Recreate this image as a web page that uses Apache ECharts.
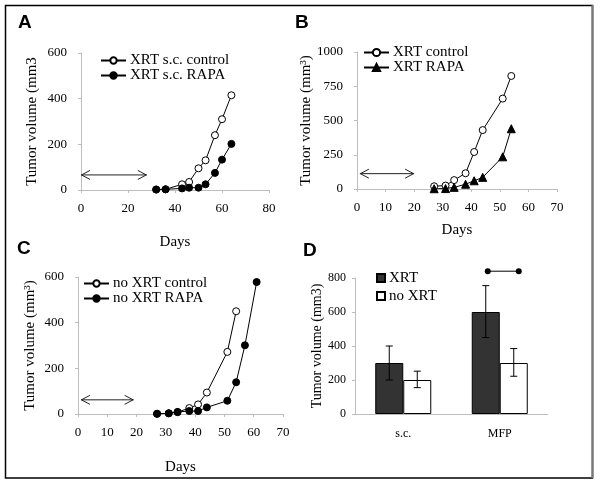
<!DOCTYPE html>
<html><head><meta charset="utf-8">
<script src="https://cdn.jsdelivr.net/npm/echarts@6/dist/echarts.min.js"></script>
<style>html,body{margin:0;padding:0;background:#fff}#c{width:600px;height:484px}</style>
</head><body><div id="c"></div>
<script>
// Panel A
const aDays = [32, 36, 43, 46, 50, 53, 57, 60, 64];
const aControl = [2, 3, 25, 35, 95, 130, 240, 310, 415];
const aRapa = [2, 3, 7, 10, 10, 25, 75, 133, 202];
// Panel B
const bDays = [27, 31, 34, 38, 41, 44, 51, 54];
const bControl = [20, 25, 65, 115, 270, 430, 660, 825];
const bRapa = [2, 3, 12, 35, 60, 85, 235, 440];
// Panel C
const cControlDays = [27, 31, 34, 38, 41, 44, 51, 54];
const cControl = [1, 3, 8, 26, 42, 94, 272, 450];
const cRapaDays = [27, 31, 34, 38, 41, 44, 51, 54, 57, 61];
const cRapa = [1, 3, 9, 13, 13, 29, 58, 139, 301, 578];
// Panel D
const dCategories = ['s.c.', 'MFP'];
const dXrt = [300, 600];
const dNoXrt = [200, 300];
const dXrtErr = [[200, 400], [450, 755]];
const dNoXrtErr = [[155, 252], [222, 385]];
const dSignif = [[1, 840]];
// treatment arrows [startDay, endDay, level]
const arrowA = [[0, 28, 66]];
const arrowB = [[1, 20, 112]];
const arrowC = [[1, 19, 62]];

const SERIF = 'Liberation Serif';
const AX = '#bdbdbd';
const zip = (xs, ys) => xs.map((x, i) => [x, ys[i]]);

function valX(gi, max, interval, nameGap, showName) {
  return {
    type: 'value', gridIndex: gi, min: 0, max: max, interval: interval,
    name: showName ? 'Days' : '', nameLocation: 'middle', nameGap: nameGap,
    nameTextStyle: {fontFamily: SERIF, fontSize: 15, color: '#000'},
    axisLine: {show: true, lineStyle: {color: AX, width: 1}},
    axisTick: {show: true, length: 3, lineStyle: {color: AX}},
    axisLabel: {fontFamily: SERIF, fontSize: 13, color: '#000', margin: 12},
    splitLine: {show: false}
  };
}
function valY(gi, max, interval, name, nameGap, fs) {
  return {
    type: 'value', gridIndex: gi, min: 0, max: max, interval: interval,
    name: name, nameLocation: 'middle', nameGap: nameGap,
    nameTextStyle: {fontFamily: SERIF, fontSize: fs || 15, color: '#000'},
    axisLine: {show: true, lineStyle: {color: AX, width: 1}},
    axisTick: {show: true, length: 3, lineStyle: {color: AX}},
    axisLabel: {fontFamily: SERIF, fontSize: fs ? 12 : 13, color: '#000', margin: fs ? 9 : 14,
                formatter: function (v) { return String(v); }},
    splitLine: {show: false}
  };
}
function lineS(name, gi, data, sym, size, open) {
  return {
    type: 'line', name: name, xAxisIndex: gi, yAxisIndex: gi, data: data,
    symbol: sym, symbolSize: size, showSymbol: true,
    lineStyle: {color: '#000', width: 1},
    itemStyle: {color: open ? '#fff' : '#000', borderColor: '#000', borderWidth: 1},
    emphasis: {disabled: true}, animation: false, z: 3
  };
}
function arrowS(gi, data) {
  return {
    type: 'custom', xAxisIndex: gi, yAxisIndex: gi, data: data, silent: true,
    encode: {x: [0, 1], y: 2}, animation: false,
    renderItem: function (params, api) {
      const p1 = api.coord([api.value(0), api.value(2)]);
      const p2 = api.coord([api.value(1), api.value(2)]);
      const st = {stroke: '#222', lineWidth: 1, fill: null};
      return {type: 'group', children: [
        {type: 'line', shape: {x1: p1[0], y1: p1[1], x2: p2[0], y2: p2[1]}, style: st},
        {type: 'polyline', shape: {points: [[p1[0] + 9, p1[1] - 4.5], [p1[0] + 0.5, p1[1]], [p1[0] + 9, p1[1] + 4.5]]}, style: st},
        {type: 'polyline', shape: {points: [[p2[0] - 9, p2[1] - 4.5], [p2[0] - 0.5, p2[1]], [p2[0] - 9, p2[1] + 4.5]]}, style: st}
      ]};
    }
  };
}
const BARW = 28;
function errS(data, sign) {
  return {
    type: 'custom', xAxisIndex: 3, yAxisIndex: 3, silent: true, animation: false, z: 5,
    data: data.map((d, i) => [i, d[0], d[1]]),
    encode: {x: 0, y: [1, 2]},
    renderItem: function (params, api) {
      const lo = api.coord([api.value(0), api.value(1)]);
      const hi = api.coord([api.value(0), api.value(2)]);
      const x = lo[0] + sign * BARW / 2;
      const st = {stroke: '#000', lineWidth: 1};
      return {type: 'group', children: [
        {type: 'line', shape: {x1: x, y1: lo[1], x2: x, y2: hi[1]}, style: st},
        {type: 'line', shape: {x1: x - 3.5, y1: lo[1], x2: x + 3.5, y2: lo[1]}, style: st},
        {type: 'line', shape: {x1: x - 3.5, y1: hi[1], x2: x + 3.5, y2: hi[1]}, style: st}
      ]};
    }
  };
}
const signifS = {
  type: 'custom', xAxisIndex: 3, yAxisIndex: 3, silent: true, animation: false, z: 5,
  data: dSignif, encode: {x: 0, y: 1},
  renderItem: function (params, api) {
    const c = api.coord([api.value(0), api.value(1)]);
    const x1 = c[0] - 12, x2 = c[0] + 19;
    return {type: 'group', children: [
      {type: 'line', shape: {x1: x1, y1: c[1], x2: x2, y2: c[1]}, style: {stroke: '#000', lineWidth: 1}},
      {type: 'circle', shape: {cx: x1, cy: c[1], r: 3}, style: {fill: '#000'}},
      {type: 'circle', shape: {cx: x2, cy: c[1], r: 3}, style: {fill: '#000'}}
    ]};
  }
};
function legendCfg(names, left, top, pitch, iw, ih, fs) {
  return {
    data: names, orient: 'vertical', left: left, top: top, padding: 0,
    itemWidth: iw, itemHeight: ih, itemGap: 0, selectedMode: false,
    textStyle: {fontFamily: SERIF, fontSize: fs, color: '#000', lineHeight: pitch, padding: [0, 0, 0, -1]}
  };
}
function letter(t, x, y) {
  return {type: 'text', left: x, top: y, style: {text: t, font: 'bold 19px "Liberation Sans"', fill: '#000'}};
}

const option = {
  animation: false,
  backgroundColor: '#fff',
  grid: [
    {left: 81, top: 53, width: 188, height: 137},
    {left: 357, top: 52, width: 200, height: 137},
    {left: 78, top: 277, width: 205, height: 137},
    {left: 355, top: 278, width: 193, height: 136}
  ],
  xAxis: [
    valX(0, 80, 20, 45, true),
    valX(1, 70, 10, 34, true),
    valX(2, 70, 10, 46, true),
    {type: 'category', gridIndex: 3, data: dCategories,
     axisLine: {show: true, lineStyle: {color: AX}}, axisTick: {show: false},
     axisLabel: {fontFamily: SERIF, fontSize: 12, color: '#000', margin: 14}}
  ],
  yAxis: [
    valY(0, 600, 200, 'Tumor volume (mm3', 41),
    valY(1, 1000, 250, 'Tumor volume (mm³)', 37),
    valY(2, 600, 200, 'Tumor volume (mm³)', 40),
    valY(3, 800, 200, 'Tumor volume (mm3)', 30, 14)
  ],
  legend: [
    legendCfg(['XRT s.c. control', 'XRT s.c. RAPA'], 100, 53, 14, 25, 8, 15),
    legendCfg(['XRT control', 'XRT RAPA'], 363, 45, 13, 25, 9, 15),
    legendCfg(['no XRT control', 'no XRT RAPA'], 83, 276, 15, 25, 8, 15),
    Object.assign(legendCfg(['XRT', 'no XRT'], 376, 269, 18, 8, 8, 15), {icon: 'rect'})
  ],
  series: [
    lineS('XRT s.c. control', 0, zip(aDays, aControl), 'circle', 7, true),
    lineS('XRT s.c. RAPA', 0, zip(aDays, aRapa), 'circle', 7, false),
    lineS('XRT control', 1, zip(bDays, bControl), 'circle', 7, true),
    lineS('XRT RAPA', 1, zip(bDays, bRapa), 'triangle', 8, false),
    lineS('no XRT control', 2, zip(cControlDays, cControl), 'circle', 7, true),
    lineS('no XRT RAPA', 2, zip(cRapaDays, cRapa), 'circle', 7, false),
    arrowS(0, arrowA), arrowS(1, arrowB), arrowS(2, arrowC),
    {type: 'bar', name: 'XRT', xAxisIndex: 3, yAxisIndex: 3, data: dXrt, barWidth: BARW, barGap: '0%',
     itemStyle: {color: '#333333', borderColor: '#000', borderWidth: 1}, emphasis: {disabled: true}},
    {type: 'bar', name: 'no XRT', xAxisIndex: 3, yAxisIndex: 3, data: dNoXrt, barWidth: BARW, barGap: '0%',
     itemStyle: {color: '#ffffff', borderColor: '#000', borderWidth: 1}, emphasis: {disabled: true}},
    errS(dXrtErr, -1), errS(dNoXrtErr, 1), signifS
  ],
  graphic: [
    {type: 'rect', shape: {x: 5.5, y: 5.5, width: 587, height: 472.5}, style: {fill: null, stroke: '#000', lineWidth: 1.5}, silent: true},
    {type: 'line', shape: {x1: 592.5, y1: 5, x2: 592.5, y2: 478}, style: {stroke: '#777', lineWidth: 2}, silent: true},
    letter('A', 18, 13), letter('B', 295, 13), letter('C', 17, 239), letter('D', 303, 241)
  ]
};
const chart = echarts.init(document.getElementById('c'), null, {renderer: 'canvas'});
chart.setOption(option);
</script></body></html>
